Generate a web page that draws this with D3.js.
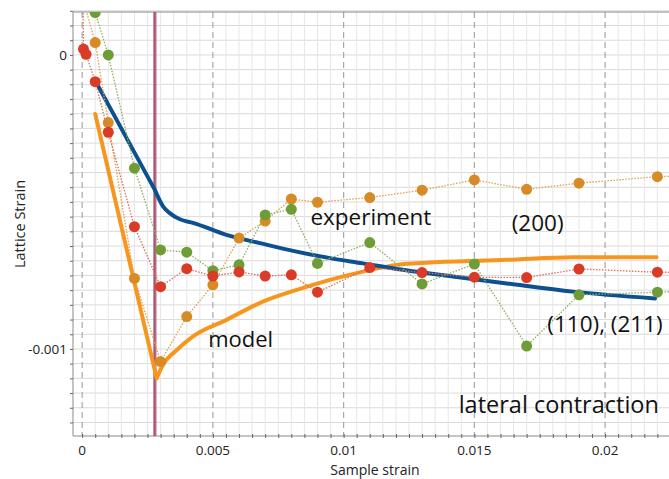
<!DOCTYPE html>
<html><head><meta charset="utf-8">
<script src="https://cdn.jsdelivr.net/npm/d3@7"></script>
<style>
html,body{margin:0;padding:0;background:#fff;overflow:hidden}
text{font-family:"Open Sans","Segoe UI",sans-serif}
</style></head>
<body>
<svg id="c" width="669" height="479"></svg>
<script>
// ---- data ----
const xTickLabels = [0, 0.005, 0.01, 0.015, 0.02];
const yTickLabels = [0, -0.001];

// experiment series (sample strain, lattice strain)
const redX   = [0.0, 0.00005, 0.00015, 0.0005, 0.001, 0.002, 0.003, 0.004, 0.005, 0.006, 0.007, 0.008, 0.009, 0.011, 0.013, 0.015, 0.017, 0.019, 0.022, 0.024];
const redY   = [0.0005, 0.00002, 0.000002, -0.000091, -0.000263, -0.000584, -0.000788, -0.000727, -0.000752, -0.000738, -0.000752, -0.000748, -0.000807, -0.000723, -0.00074, -0.000756, -0.000757, -0.000728, -0.000739, -0.00074];

const greenX = [0.00015, 0.0005, 0.001, 0.002, 0.003, 0.004, 0.005, 0.006, 0.007, 0.008, 0.009, 0.011, 0.013, 0.015, 0.017, 0.019, 0.022, 0.024];
const greenY = [0.0006, 0.000144, 0.0, -0.000385, -0.000663, -0.000671, -0.000734, -0.000714, -0.000544, -0.000525, -0.000709, -0.000638, -0.000779, -0.000711, -0.00099, -0.000816, -0.000807, -0.0008];

const orangeX = [0.0, 0.0005, 0.001, 0.002, 0.003, 0.004, 0.005, 0.006, 0.007, 0.008, 0.009, 0.011, 0.013, 0.015, 0.017, 0.019, 0.022, 0.024];
const orangeY = [0.0002, 0.000042, -0.00023, -0.00076, -0.001043, -0.00089, -0.000782, -0.000623, -0.000565, -0.00049, -0.000501, -0.000485, -0.00046, -0.000425, -0.000457, -0.000436, -0.000414, -0.00041];

// model curves (elastic segment up to the kink, then the plastic branch)
const blueModelX = [0.0005, 0.00278, 0.0031, 0.00335, 0.00374, 0.00424, 0.00552, 0.0068, 0.0082, 0.00948, 0.01074, 0.01203, 0.0133, 0.01624, 0.01878, 0.02191];
const blueModelY = [-0.0000874, -0.000459, -0.000516, -0.000538, -0.000559, -0.000571, -0.000612, -0.00064, -0.000669, -0.000691, -0.000709, -0.000728, -0.000743, -0.000777, -0.000805, -0.000828];

const orangeModelX = [0.0005, 0.00285, 0.0031, 0.0036, 0.00423, 0.00552, 0.00691, 0.00821, 0.00948, 0.01074, 0.01203, 0.0133, 0.01624, 0.01878, 0.02197];
const orangeModelY = [-0.000201, -0.0011, -0.001052, -0.001005, -0.000958, -0.000901, -0.000839, -0.000799, -0.000765, -0.000737, -0.000714, -0.000706, -0.000697, -0.000688, -0.000688];
const kinkIndex = 1; // index of the kink point in both model arrays

const markerX = 0.00278; // vertical marker line

const annotations = [
  {text: "experiment", x: 0.00873, y: -0.00058, size: 22.5},
  {text: "(200)", x: 0.01643, y: -0.000598, size: 22.5},
  {text: "(110), (211)", x: 0.01779, y: -0.000941, size: 22.5},
  {text: "model", x: 0.00482, y: -0.000994, size: 22},
  {text: "lateral contraction", x: 0.0144, y: -0.001219, size: 23.5}
];

// ---- chart ----
const svg = d3.select("#c");
const L = 73, R = 677, T = 12, B = 436;
const x = d3.scaleLinear().domain([-0.00035, 0.02275]).range([L, R]);
const y = d3.scaleLinear().domain([-0.001296, 0.000146]).range([B, T]);

svg.append("defs").append("clipPath").attr("id","clip")
  .append("rect").attr("x",L).attr("y",T).attr("width",R-L).attr("height",B-T);

const grid = svg.append("g");
const yMinor = d3.range(-0.00125, 0.000151, 0.00005).map(v => +v.toFixed(6));
const xMinor = d3.range(-0.0000, 0.0227, 0.0005).map(v => +v.toFixed(5));

grid.selectAll(".hy").data(yMinor).join("line")
  .attr("x1", L).attr("x2", R).attr("y1", d => y(d)).attr("y2", d => y(d))
  .attr("stroke", "#dadada").attr("stroke-width", 1);
grid.selectAll(".vx").data(xMinor.filter(v => !xTickLabels.some(t => Math.abs(t - v) < 1e-9))).join("line")
  .attr("y1", T).attr("y2", B).attr("x1", d => x(d)).attr("x2", d => x(d))
  .attr("stroke", "#e6e6e6").attr("stroke-width", 1);
grid.selectAll(".vmaj").data(xTickLabels).join("line")
  .attr("y1", T).attr("y2", B).attr("x1", d => x(d)).attr("x2", d => x(d))
  .attr("stroke", "#a8a8a8").attr("stroke-width", 1.2).attr("stroke-dasharray", "6,4");

// top border
svg.append("line").attr("x1", L).attr("x2", R).attr("y1", T).attr("y2", T).attr("stroke", "#8a8a8a");

// axes
const yAxis = d3.axisLeft(y).tickValues(yMinor).tickSize(3).tickFormat("");
const gy = svg.append("g").attr("transform", `translate(${L},0)`).call(yAxis);
gy.select(".domain").attr("stroke", "#8a8a8a").attr("d", `M0,${T}V${B}`);
gy.selectAll(".tick line").attr("stroke", "#666");

const xAxis = d3.axisBottom(x).tickValues(xMinor).tickSize(3).tickFormat("");
const gx = svg.append("g").attr("transform", `translate(0,${B})`).call(xAxis);
gx.select(".domain").attr("stroke", "#8a8a8a").attr("d", `M${L},0H${R}`);
gx.selectAll(".tick line").attr("stroke", "#666").attr("y1", -2).attr("y2", 2);

svg.append("g").selectAll("text").data(yTickLabels).join("text")
  .attr("x", L - 6).attr("y", d => y(d)).attr("dy", "0.35em")
  .attr("text-anchor", "end").attr("font-size", 13.5).attr("fill", "#222")
  .text(d => d === 0 ? "0" : d3.format(".3f")(d).replace("−", "-"));
svg.append("g").selectAll("text").data(xTickLabels).join("text")
  .attr("x", d => x(d)).attr("y", B + 18.5)
  .attr("text-anchor", "middle").attr("font-size", 13.5).attr("fill", "#222")
  .text(d => d === 0 ? "0" : String(d));

svg.append("text").attr("x", (L + R) / 2).attr("y", 474.5).attr("text-anchor", "middle")
  .attr("font-size", 14).attr("fill", "#222").text("Sample strain");
svg.append("text").attr("transform", `translate(25,${(T + B) / 2}) rotate(-90)`)
  .attr("text-anchor", "middle").attr("font-size", 14.5).attr("fill", "#222").text("Lattice Strain");

const plot = svg.append("g").attr("clip-path", "url(#clip)");

// vertical marker
plot.append("line").attr("x1", x(markerX)).attr("x2", x(markerX)).attr("y1", T).attr("y2", B)
  .attr("stroke", "#bb6f8b").attr("stroke-width", 3.5).attr("opacity", 0.85);
plot.append("line").attr("x1", x(markerX)).attr("x2", x(markerX)).attr("y1", T).attr("y2", B)
  .attr("stroke", "#9c3f62").attr("stroke-width", 1);

const line = d3.line().x(d => x(d[0])).y(d => y(d[1]));
const smooth = d3.line().x(d => x(d[0])).y(d => y(d[1])).curve(d3.curveMonotoneX);
const zip = (a, b) => a.map((v, i) => [v, b[i]]);

function drawModel(xs, ys, color) {
  const pts = zip(xs, ys);
  const d = line(pts.slice(0, kinkIndex + 1)) + "L" + smooth(pts.slice(kinkIndex)).slice(1);
  plot.append("path").attr("d", d).attr("fill", "none").attr("stroke", color)
    .attr("stroke-width", 4).attr("stroke-linejoin", "round").attr("stroke-linecap", "round");
}
drawModel(orangeModelX, orangeModelY, "#f7961f");
drawModel(blueModelX, blueModelY, "#0c5090");

// experiment series
const series = [
  {xs: orangeX, ys: orangeY, color: "#d68b27", lc: "#e0a050"},
  {xs: greenX, ys: greenY, color: "#6e9c36", lc: "#8ab05a"},
  {xs: redX, ys: redY, color: "#da3b26", lc: "#e06a55"}
];
series.forEach(s => {
  const pts = zip(s.xs, s.ys);
  plot.append("path").datum(pts).attr("d", line).attr("fill", "none")
    .attr("stroke", s.lc).attr("stroke-width", 1.3).attr("stroke-dasharray", "1.5,1.5");
  plot.append("g").selectAll("circle").data(pts).join("circle")
    .attr("cx", d => x(d[0])).attr("cy", d => y(d[1])).attr("r", 5.5).attr("fill", s.color);
});

// annotations
svg.append("g").selectAll("text").data(annotations).join("text")
  .attr("x", d => x(d.x)).attr("y", d => y(d.y)).attr("font-size", d => d.size).attr("fill", "#111")
  .text(d => d.text);
</script>
</body></html>
